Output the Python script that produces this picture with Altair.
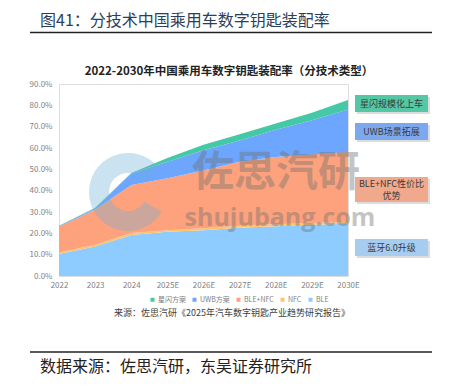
import altair as alt
import pandas as pd

years = ["2022", "2023", "2024", "2025E", "2026E", "2027E", "2028E", "2029E", "2030E"]
ble = [10.3, 13.8, 19.2, 20.7, 21.5, 22.6, 23.3, 24.0, 24.5]
nfc = [0.7, 0.9, 1.0, 0.8, 0.9, 0.9, 0.9, 0.9, 0.8]
ble_nfc = [12.1, 16.5, 22.5, 24.3, 27.1, 30.0, 31.6, 32.1, 32.8]
uwb = [0.3, 0.6, 5.3, 7.7, 9.5, 10.0, 12.7, 16.0, 20.0]
star = [0.1, 0.2, 0.3, 1.8, 2.5, 3.0, 3.0, 3.5, 4.4]

series_names = ["星闪方案", "UWB方案", "BLE+NFC", "NFC", "BLE"]
series_colors = ["#45C8A6", "#6CA6FF", "#FDA27D", "#FFC36B", "#8ECBFF"]
y_ticks = [0, 0.1, 0.2, 0.3, 0.4, 0.5, 0.6, 0.7, 0.8, 0.9]

header = "图41：分技术中国乘用车数字钥匙装配率"
chart_title = "2022-2030年中国乘用车数字钥匙装配率（分技术类型）"
source_text = "来源：佐思汽研《2025年汽车数字钥匙产业趋势研究报告》"
footer = "数据来源：佐思汽研，东吴证券研究所"
ann_texts = [["星闪规模化上车"], ["UWB场景拓展"], ["BLE+NFC性价比", "优势"], ["蓝牙6.0升级"]]
ann_colors = ["#55C7A5", "#7EA8EE", "#F0A98D", "#A6CCEF"]

FONT = "Noto Sans CJK SC"

rows = []
stack_rank = {"BLE": 0, "NFC": 1, "BLE+NFC": 2, "UWB方案": 3, "星闪方案": 4}
for name, vals in [("BLE", ble), ("NFC", nfc), ("BLE+NFC", ble_nfc), ("UWB方案", uwb), ("星闪方案", star)]:
    for yr, v in zip(years, vals):
        rows.append({"year": yr, "series": name, "value": v / 100.0, "rank": stack_rank[name]})
df = pd.DataFrame(rows)

W, H = 289, 192

areas = alt.Chart(df).mark_area(interpolate="linear").encode(
    x=alt.X("year:N", sort=years, scale=alt.Scale(type="point", padding=0),
            axis=alt.Axis(title=None, labelAngle=0, labelFontSize=8, labelColor="#7f7f7f",
                          labelFont=FONT, domain=False, ticks=False, labelPadding=5)),
    y=alt.Y("value:Q", stack="zero", scale=alt.Scale(domain=[0, 0.9], nice=False),
            axis=alt.Axis(title=None, format=".1%", values=y_ticks, labelFontSize=8,
                          labelColor="#7f7f7f", labelFont=FONT, domain=False, ticks=False,
                          grid=False, labelPadding=7)),
    color=alt.Color("series:N", scale=alt.Scale(domain=series_names, range=series_colors),
                    legend=alt.Legend(title=None, orient="none", legendX=90, legendY=212,
                                      direction="horizontal", symbolType="square", symbolSize=16,
                                      symbolStrokeWidth=0, labelFontSize=7, labelColor="#7f7f7f",
                                      labelFont=FONT, columnPadding=5, labelOffset=2)),
    order=alt.Order("rank:Q"),
)


def one(text):
    return pd.DataFrame({"t": [text]})


def txt(text, x, y, size, color, align="left", weight="normal", opacity=1.0, font=FONT):
    return alt.Chart(one(text)).mark_text(
        align=align, baseline="middle", fontSize=size, color=color, font=font,
        fontWeight=weight, opacity=opacity).encode(
        x=alt.value(x), y=alt.value(y), text="t:N")


def rule(x1, x2, y, color="#222222", width=1.3):
    return alt.Chart(one("r")).mark_rule(color=color, strokeWidth=width).encode(
        x=alt.value(x1), x2=alt.value(x2), y=alt.value(y))


layers = [areas]

# watermark
ring = alt.Chart(one("w")).mark_arc(innerRadius=19, outerRadius=39, theta=2.1, theta2=7.2,
                                    color="#6BAED6", opacity=0.35).encode(
    x=alt.value(69), y=alt.value(108))
layers.append(ring)
layers.append(txt("佐思汽研", 217, 89, 42, "#6e6e6e", align="center", weight="bold", opacity=0.4))
layers.append(txt("shujubang.com", 221, 134, 25, "#6e6e6e", align="center", weight="bold",
                  opacity=0.4, font="Open Sans"))

# annotation boxes
boxes = [(11, 28), (39, 56), (93, 118), (155, 172)]
for (y1, y2), lines, c in zip(boxes, ann_texts, ann_colors):
    layers.append(alt.Chart(one("s")).mark_rect(color="#9a9a9a", opacity=0.35).encode(
        x=alt.value(298), x2=alt.value(371), y=alt.value(y1 + 2), y2=alt.value(y2 + 2)))
    layers.append(alt.Chart(one("b")).mark_rect(color=c).encode(
        x=alt.value(296), x2=alt.value(369), y=alt.value(y1), y2=alt.value(y2)))
    mid = (y1 + y2) / 2
    n = len(lines)
    for i, line in enumerate(lines):
        layers.append(txt(line, 332.5, mid + (i - (n - 1) / 2) * 12, 9, "#3a3a3a", align="center"))

# header / titles / footer
layers.append(txt(header, -19, -63, 16, "#2B3F5C"))
layers.append(rule(-29, 373, -51.5))
layers.append(txt(chart_title, 170, -12, 11.5, "#222222", align="center", weight="bold"))
layers.append(txt(source_text, 173, 229, 9, "#404040", align="center"))
layers.append(rule(-29, 373, 268))
layers.append(txt(footer, -19, 283, 16, "#222222"))

chart = alt.layer(*layers).properties(
    width=W, height=H,
    autosize=alt.AutoSizeParams(type="none"),
    padding={"left": 51, "top": 76, "right": 95, "bottom": 102},
).configure_view(stroke=None).configure(background="white")

chart.save("out.html", embed_options={"renderer": "svg", "actions": False})
